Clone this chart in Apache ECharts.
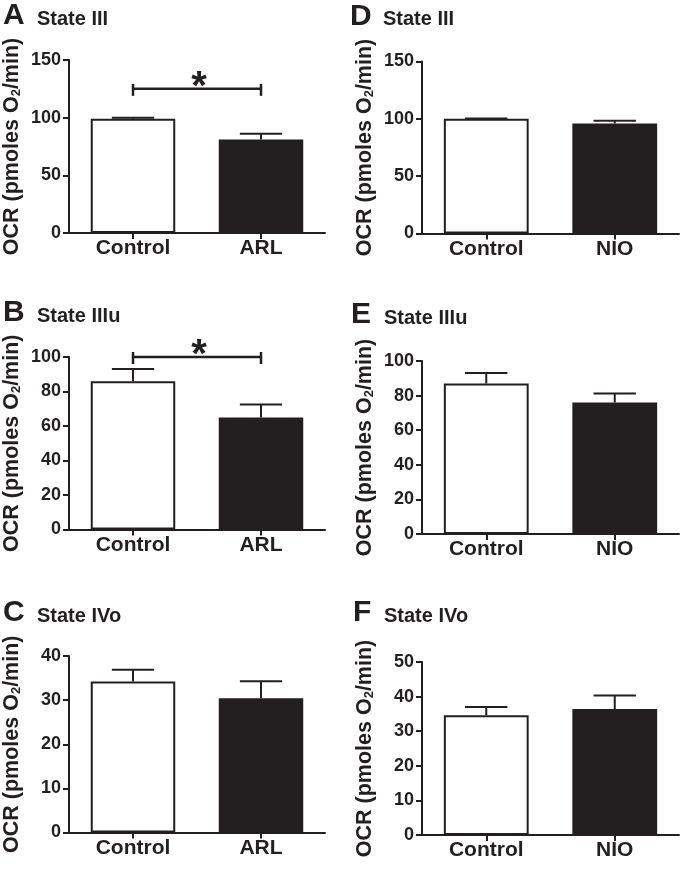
<!DOCTYPE html>
<html><head><meta charset="utf-8">
<script src="https://cdn.jsdelivr.net/npm/echarts@6/dist/echarts.min.js"></script>
<style>html,body{margin:0;padding:0;background:#fff}#c{width:684px;height:869px}</style>
</head><body><div id="c"></div>
<script>
// ---- data ----
const arlCategories = ['Control', 'ARL'];
const nioCategories = ['Control', 'NIO'];

const stateIIIArlMeans = [99, 81];
const stateIIIArlSem = [1, 5];
const stateIIIuArlMeans = [86, 65];
const stateIIIuArlSem = [7, 7.5];
const stateIVoArlMeans = [34.2, 30.4];
const stateIVoArlSem = [2.7, 3.9];

const stateIIINioMeans = [100, 96];
const stateIIINioSem = [0.3, 2.3];
const stateIIIuNioMeans = [87, 76];
const stateIIIuNioSem = [6, 5.2];
const stateIVoNioMeans = [34.6, 36.4];
const stateIVoNioSem = [2.4, 3.9];

const panelLetters = ['A', 'B', 'C', 'D', 'E', 'F'];
const panelTitles = ['State III', 'State IIIu', 'State IVo', 'State III', 'State IIIu', 'State IVo'];
const yMaxes = [150, 100, 40, 150, 100, 50];
const yIntervals = [50, 20, 10, 50, 20, 10];
const significanceLevels = [125, 100, null, null, null, null]; // bracket height in axis units
const yAxisTitle = 'OCR (pmoles O{sub|2}/min)';

// ---- layout ----
const INK = '#231f20';
const FONT = '"Liberation Sans", Arial, Helvetica, sans-serif';
const layout = [
  { left: 69, top: 60, width: 256, height: 173, titleY: 26, letterX: 3, titleX: 37, yTitleX: 12 },
  { left: 69, top: 357, width: 256, height: 172.5, titleY: 323, letterX: 3, titleX: 37, yTitleX: 12 },
  { left: 69, top: 656, width: 256, height: 176.5, titleY: 623, letterX: 3, titleX: 37, yTitleX: 12 },
  { left: 422, top: 61.5, width: 257, height: 172, titleY: 26.5, letterX: 350, titleX: 383, yTitleX: 365 },
  { left: 422, top: 361, width: 257, height: 173, titleY: 325, letterX: 351, titleX: 384, yTitleX: 365 },
  { left: 422, top: 662, width: 257, height: 173, titleY: 623, letterX: 353, titleX: 384, yTitleX: 365 }
];

const panelCats = [arlCategories, arlCategories, arlCategories, nioCategories, nioCategories, nioCategories];
const panelMeans = [stateIIIArlMeans, stateIIIuArlMeans, stateIVoArlMeans, stateIIINioMeans, stateIIIuNioMeans, stateIVoNioMeans];
const panelSem = [stateIIIArlSem, stateIIIuArlSem, stateIVoArlSem, stateIIINioSem, stateIIIuNioSem, stateIVoNioSem];

const grids = [], xAxes = [], yAxes = [], series = [], graphics = [];

layout.forEach((L, i) => {
  grids.push({ left: L.left, top: L.top, width: L.width, height: L.height, containLabel: false });
  xAxes.push({
    type: 'category', gridIndex: i, data: panelCats[i],
    axisLine: { show: true, lineStyle: { color: INK, width: 2 } },
    axisTick: { show: true, alignWithLabel: true, length: 6, lineStyle: { color: INK, width: 2 } },
    axisLabel: { color: INK, fontSize: 21, fontWeight: 'bold', fontFamily: FONT, margin: 5 },
    splitLine: { show: false }
  });
  yAxes.push({
    type: 'value', gridIndex: i, min: 0, max: yMaxes[i], interval: yIntervals[i],
    axisLine: { show: true, lineStyle: { color: INK, width: 2 } },
    axisTick: { show: true, length: 6, lineStyle: { color: INK, width: 2 } },
    axisLabel: { color: INK, fontSize: 18, fontWeight: 'bold', fontFamily: FONT, margin: 8 },
    splitLine: { show: false }
  });
  series.push({
    type: 'bar', xAxisIndex: i, yAxisIndex: i, barWidth: '66%', silent: true,
    data: panelMeans[i].map((v, k) => ({
      value: v,
      itemStyle: k === 0 ? { color: '#ffffff', borderColor: INK, borderWidth: 2 }
                         : { color: INK, borderColor: INK, borderWidth: 2 }
    }))
  });
  series.push({
    type: 'custom', xAxisIndex: i, yAxisIndex: i, silent: true, z: 5,
    data: panelMeans[i].map((v, k) => [k, v, panelSem[i][k]]),
    encode: { x: 0, y: 1 },
    renderItem: function (params, api) {
      const x = api.value(0), v = api.value(1), e = api.value(2);
      const base = api.coord([x, v]);
      const top = api.coord([x, v + e]);
      const bw = api.size([1, 0])[0] * 0.66;
      const half = bw / 4;
      return { type: 'group', children: [
        { type: 'line', shape: { x1: base[0], y1: base[1], x2: top[0], y2: top[1] }, style: { stroke: INK, lineWidth: 2 } },
        { type: 'line', shape: { x1: top[0] - half, y1: top[1], x2: top[0] + half, y2: top[1] }, style: { stroke: INK, lineWidth: 2 } }
      ]};
    }
  });
  if (significanceLevels[i] !== null) {
    series.push({
      type: 'custom', xAxisIndex: i, yAxisIndex: i, silent: true, z: 6,
      data: [[0, 1, significanceLevels[i]]],
      encode: { x: 0, y: 2 },
      renderItem: function (params, api) {
        const p0 = api.coord([api.value(0), api.value(2)]);
        const p1 = api.coord([api.value(1), api.value(2)]);
        const st = { stroke: INK, lineWidth: 2.5 };
        return { type: 'group', children: [
          { type: 'line', shape: { x1: p0[0], y1: p0[1], x2: p1[0], y2: p1[1] }, style: st },
          { type: 'line', shape: { x1: p0[0], y1: p0[1] - 5, x2: p0[0], y2: p0[1] + 7 }, style: st },
          { type: 'line', shape: { x1: p1[0], y1: p1[1] - 5, x2: p1[0], y2: p1[1] + 7 }, style: st },
          { type: 'text', x: (p0[0] + p1[0]) / 2 + 2, y: p0[1] - 1,
            style: { text: '*', fill: INK, fontSize: 40, fontWeight: 'bold', fontFamily: FONT, align: 'center', verticalAlign: 'middle' } }
        ]};
      }
    });
  }
  graphics.push({
    type: 'text', x: L.letterX, y: L.titleY - 10.2,
    style: { text: panelLetters[i], fill: INK, fontSize: 30, fontWeight: 'bold', fontFamily: FONT, textAlign: 'left', textVerticalAlign: 'middle', align: 'left', verticalAlign: 'middle' }
  });
  graphics.push({
    type: 'text', x: L.titleX, y: L.titleY - 6.8,
    style: { text: panelTitles[i], fill: INK, fontSize: 20, fontWeight: 'bold', fontFamily: FONT, textAlign: 'left', textVerticalAlign: 'middle', align: 'left', verticalAlign: 'middle' }
  });
  graphics.push({
    type: 'text', x: L.yTitleX, y: L.top + L.height / 2, rotation: Math.PI / 2,
    style: { text: yAxisTitle, fill: INK, fontSize: 21.5, fontWeight: 'bold', fontFamily: FONT,
      textAlign: 'center', textVerticalAlign: 'middle', align: 'center', verticalAlign: 'middle',
      rich: { sub: { fontSize: 13, fontWeight: 'bold', fontFamily: FONT, fill: INK, lineHeight: 10, verticalAlign: 'bottom' } } }
  });
});

const chart = echarts.init(document.getElementById('c'), null, { renderer: 'canvas' });
chart.setOption({
  animation: false,
  backgroundColor: '#ffffff',
  textStyle: { fontFamily: FONT },
  grid: grids, xAxis: xAxes, yAxis: yAxes, series: series, graphic: graphics
});
</script></body></html>
